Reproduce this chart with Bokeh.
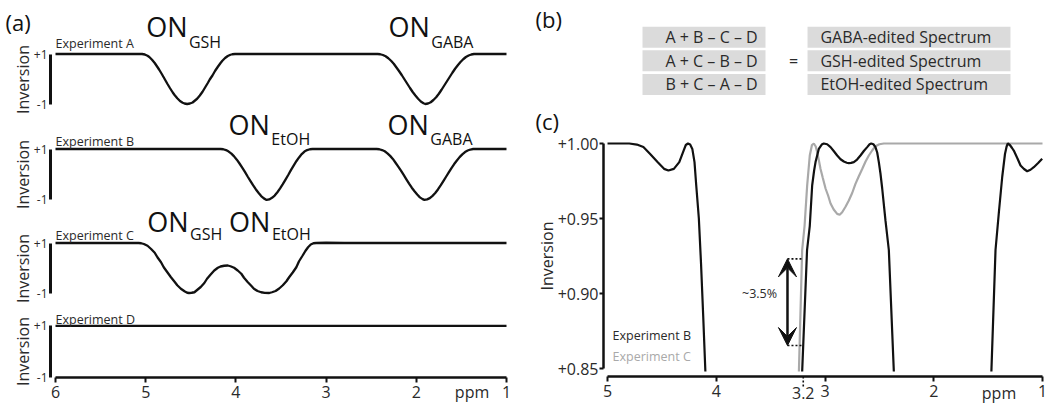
from bokeh.plotting import figure
from bokeh.layouts import row, column
from bokeh.models import (Range1d, FixedTicker, Label, Arrow, VeeHead, ColumnDataSource,
                          LinearAxis)
from bokeh.embed import file_html
from bokeh.resources import INLINE
from bokeh.core.properties import value

NaN = float("nan")

# ------------------------------------------------------------------ data
# panel (a): inversion profiles of the four experiments (ppm, inversion)
a_xticks = [6, 5, 4, 3, 2, 1]
a_yticks = [-1, 1]
a_ytick_labels = ["-1", "+1"]

expA_ppm = [6.00, 5.30, 5.04, 5.01, 4.98, 4.96, 4.93, 4.90, 4.87, 4.85, 4.82, 4.79, 4.76, 4.73,
            4.70, 4.68, 4.65, 4.62, 4.59, 4.57, 4.54, 4.51, 4.48, 4.45, 4.43, 4.40, 4.37, 4.34,
            4.31, 4.29, 4.26, 4.23, 4.20, 4.17, 4.15, 4.12, 4.09, 4.06, 4.04, 4.01, 3.00,
            2.43, 2.40, 2.37, 2.34, 2.31, 2.28, 2.25, 2.22, 2.19, 2.16, 2.13, 2.10, 2.07, 2.04,
            2.01, 1.98, 1.95, 1.92, 1.90, 1.87, 1.84, 1.81, 1.78, 1.75, 1.72, 1.69, 1.66, 1.63,
            1.60, 1.57, 1.54, 1.51, 1.48, 1.45, 1.42, 1.39, 1.36, 1.00]
expA_inv = [1.0, 1.0, 1.0, 0.98, 0.93, 0.88, 0.77, 0.64, 0.48, 0.37, 0.19, 0.0, -0.19, -0.37,
            -0.54, -0.64, -0.77, -0.88, -0.95, -0.98, -1.0, -0.98, -0.94, -0.85, -0.79, -0.66, -0.51, -0.33,
            -0.15, -0.02, 0.14, 0.33, 0.49, 0.64, 0.73, 0.84, 0.92, 0.97, 0.99, 1.0, 1.0,
            1.0, 0.99, 0.96, 0.91, 0.83, 0.73, 0.61, 0.46, 0.31, 0.15, -0.02, -0.19, -0.36, -0.52,
            -0.66, -0.79, -0.90, -0.97, -1.0, -0.98, -0.93, -0.84, -0.73, -0.59, -0.43, -0.26, -0.09, 0.08,
            0.25, 0.41, 0.55, 0.68, 0.79, 0.88, 0.94, 0.98, 1.0, 1.0]

expB_ppm = [6.00, 5.00, 4.17, 4.14, 4.11, 4.08, 4.05, 4.02, 3.99, 3.96, 3.93, 3.90, 3.87, 3.84,
            3.81, 3.78, 3.75, 3.72, 3.69, 3.66, 3.63, 3.60, 3.57, 3.54, 3.51, 3.48, 3.45, 3.42,
            3.39, 3.36, 3.33, 3.30, 3.27, 3.24, 3.21, 3.18, 3.15, 2.80,
            2.44, 2.41, 2.38, 2.35, 2.32, 2.29, 2.26, 2.23, 2.20, 2.17, 2.14, 2.11, 2.08, 2.05,
            2.02, 1.99, 1.96, 1.93, 1.91, 1.88, 1.85, 1.82, 1.79, 1.76, 1.73, 1.70, 1.67, 1.64,
            1.61, 1.58, 1.55, 1.52, 1.49, 1.46, 1.43, 1.40, 1.37, 1.00]
expB_inv = [1.0, 1.0, 1.0, 0.99, 0.96, 0.90, 0.82, 0.71, 0.58, 0.43, 0.27, 0.10, -0.08, -0.25,
            -0.42, -0.58, -0.72, -0.85, -0.94, -1.0, -0.98, -0.92, -0.83, -0.70, -0.55, -0.38, -0.20, -0.02,
            0.17, 0.35, 0.52, 0.67, 0.80, 0.90, 0.96, 0.99, 1.0, 1.0,
            1.0, 0.99, 0.96, 0.91, 0.83, 0.73, 0.61, 0.46, 0.31, 0.15, -0.02, -0.19, -0.36, -0.52,
            -0.66, -0.79, -0.90, -0.97, -1.0, -0.98, -0.93, -0.84, -0.73, -0.59, -0.43, -0.26, -0.09, 0.08,
            0.25, 0.41, 0.55, 0.68, 0.79, 0.88, 0.94, 0.98, 1.0, 1.0]

expC_ppm = [6.00, 5.08, 5.05, 5.02, 4.98, 4.94, 4.90, 4.87, 4.83, 4.80, 4.76, 4.72, 4.68, 4.65,
            4.61, 4.57, 4.54, 4.52, 4.49, 4.46, 4.43, 4.39, 4.35, 4.32, 4.28, 4.24, 4.20, 4.17,
            4.13, 4.09, 4.06, 4.02, 3.98, 3.94, 3.91, 3.87, 3.83, 3.80, 3.76, 3.72, 3.68, 3.63,
            3.60, 3.56, 3.52, 3.48, 3.44, 3.41, 3.37, 3.33, 3.30, 3.26, 3.23, 3.20, 3.17, 3.14,
            3.11, 3.00, 2.80, 1.00]
expC_inv = [1.0, 1.0, 0.99, 0.96, 0.89, 0.76, 0.61, 0.43, 0.23, 0.03, -0.17, -0.37, -0.55, -0.69,
            -0.83, -0.93, -0.99, -1.0, -0.99, -0.97, -0.88, -0.76, -0.60, -0.43, -0.26, -0.10, 0.01, 0.06,
            0.09, 0.10, 0.07, 0.01, -0.10, -0.23, -0.39, -0.56, -0.71, -0.83, -0.92, -0.97, -0.995, -1.0,
            -0.97, -0.92, -0.82, -0.69, -0.53, -0.37, -0.18, 0.03, 0.27, 0.50, 0.68, 0.83, 0.94, 0.99,
            1.0, 1.01, 1.0, 1.0]

expD_ppm = [6.00, 1.00]
expD_inv = [1.0, 1.0]

exp_names = ["Experiment A", "Experiment B", "Experiment C", "Experiment D"]

# "ON" labels of panel (a): experiment, subscript, ppm where ON meets subscript
on_exp = ["A", "A", "B", "B", "C", "C"]
on_sub = ["GSH", "GABA", "EtOH", "GABA", "GSH", "EtOH"]
on_ppm = [4.525, 1.838, 3.611, 1.848, 4.512, 3.605]

# panel (b): editing combinations
b_left = ["A + B \u2013 C \u2013 D", "A + C \u2013 B \u2013 D", "B + C \u2013 A \u2013 D"]
b_right = ["GABA-edited Spectrum", "GSH-edited Spectrum", "EtOH-edited Spectrum"]

# panel (c): zoom on the top of the profiles (NaN = below the window)
c_xticks = [5, 4, 3, 2, 1]
c_xextra_tick = 3.2
c_yticks = [0.85, 0.90, 0.95, 1.00]
c_ytick_labels = ["+0.85", "+0.90", "+0.95", "+1.00"]

zoomB_ppm = [5.00, 4.90, 4.80, 4.73, 4.67, 4.61, 4.54, 4.48, 4.44, 4.39, 4.34, 4.30, 4.28, 4.26,
             4.24, 4.22, 4.20, 4.184, 4.16, 4.14, 4.12, 4.10, NaN,
             3.21, 3.165, 3.14, 3.118, 3.10, 3.087, 3.057, 3.03, 3.011, 2.98, 2.949, 2.92, 2.888,
             2.857, 2.827, 2.80, 2.781, 2.76, 2.735, 2.705, 2.674, 2.643, 2.612, 2.59, 2.575,
             2.555, 2.536, 2.52, 2.505, 2.49, 2.474, 2.444, 2.413, 2.367, NaN,
             1.47, 1.432, 1.40, 1.37, 1.345, 1.33, 1.319, 1.30, 1.28, 1.264, 1.23, 1.202, 1.17,
             1.141, 1.11, 1.08, 1.04, 1.003]
zoomB_inv = [1.0, 1.0, 1.0, 0.9993, 0.9976, 0.9931, 0.9876, 0.9831, 0.982, 0.9831, 0.9876, 0.9953, 0.999, 1.0,
             0.9993, 0.9964, 0.9876, 0.972, 0.95, 0.92, 0.885, 0.848, NaN,
             0.848, 0.929, 0.945, 0.972, 0.982, 0.9876, 0.9964, 0.9993, 1.0, 0.9995, 0.9976, 0.995, 0.992,
             0.9895, 0.988, 0.9872, 0.9869, 0.9871, 0.9876, 0.9893, 0.992, 0.995, 0.9976, 0.9995, 1.0,
             0.9995, 0.9976, 0.994, 0.9876, 0.980, 0.970, 0.9487, 0.929, 0.848, NaN,
             0.848, 0.929, 0.955, 0.978, 0.993, 0.998, 1.0, 0.999, 0.997, 0.9953, 0.99, 0.9853, 0.983,
             0.9815, 0.9825, 0.9842, 0.987, 0.9898]

zoomC_ppm = [3.24, 3.21, 3.188, 3.164, 3.14, 3.12, 3.103, 3.085, 3.072, 3.057, 3.041, 3.02, 2.995,
             2.97, 2.949, 2.92, 2.888, 2.865, 2.842, 2.81, 2.781, 2.75, 2.72, 2.69, 2.658, 2.627,
             2.597, 2.565, 2.536, 2.50, 2.459, 2.30, 2.00, 1.50, 1.00]
zoomC_inv = [0.848, 0.929, 0.945, 0.972, 0.992, 0.999, 1.0, 0.998, 0.9942, 0.989, 0.983, 0.977, 0.970,
             0.965, 0.960, 0.956, 0.9531, 0.9525, 0.9542, 0.958, 0.962, 0.967, 0.9731, 0.978, 0.983, 0.988,
             0.992, 0.9955, 0.9982, 0.9995, 1.0, 1.0, 1.0, 1.0, 1.0]

c_legend = ["Experiment B", "Experiment C"]
gap_ppm = 3.345
gap_top = 0.9231
gap_bottom = 0.8653
gap_text = "~3.5%"

# ------------------------------------------------------------------ style
FONT = "Open Sans"
INK = "#111111"
TXT = "#2a2a2a"
GRAY = "#a9a9a9"
CELL = "#dbdbdb"
NOBORDER = dict(min_border_left=0, min_border_right=0, min_border_top=0, min_border_bottom=0)


def lab(p, x, y, text, size, align="left", color=TXT, yr="default"):
    p.add_layout(Label(x=x, y=y, text=text, text_font=FONT, text_font_size=size,
                       text_align=align, text_baseline="middle", text_color=color,
                       y_range_name=yr))


def style_axis(ax, size):
    ax.axis_line_color = INK
    ax.major_tick_line_color = INK
    ax.major_tick_in = 0
    ax.minor_tick_in = 0
    ax.minor_tick_out = 0
    ax.major_label_text_font = FONT
    ax.major_label_text_font_size = size
    ax.major_label_text_color = TXT
    ax.axis_label_text_font = FONT
    ax.axis_label_text_font_style = "normal"
    ax.axis_label_text_font_size = "16px"
    ax.axis_label_text_color = TXT


# ------------------------------------------------------------------ panel (a)
# one canvas; each experiment has its own vertical scale, axes at fixed data locations
A_W, A_H = 531, 407
A_XR = (6.6098, 0.7228)
A_YAXIS_AT = 6.0554
A_YR = {"A": (-13.14, 3.14), "B": (-9.157, 6.835), "C": (-5.58, 10.70), "D": (-2.1423, 13.5115)}
RN = {"A": "A", "B": "B", "C": "C", "D": "default"}

fa = figure(width=A_W, height=A_H, output_backend="svg", toolbar_location=None,
            x_range=Range1d(*A_XR), y_range=Range1d(*A_YR["D"]),
            y_axis_location=None, **NOBORDER)
fa.extra_y_ranges = {k: Range1d(*A_YR[k]) for k in "ABC"}
fa.outline_line_color = None
fa.grid.visible = False

for k in "ABCD":
    ya = LinearAxis(y_range_name=RN[k])
    style_axis(ya, "12px")
    ya.fixed_location = A_YAXIS_AT
    ya.ticker = FixedTicker(ticks=a_yticks)
    ya.major_label_overrides = dict(zip(a_yticks, a_ytick_labels))
    ya.bounds = (-1, 1)
    ya.axis_line_width = 3
    ya.major_tick_out = 0
    ya.major_label_standoff = 3
    ya.axis_label = "Inversion"
    ya.axis_label_standoff = -3
    fa.add_layout(ya, "left")

xa = fa.xaxis[0]
style_axis(xa, "16px")
xa.fixed_location = -1.0
xa.ticker = FixedTicker(ticks=a_xticks)
xa.bounds = (1, 6)
xa.axis_line_width = 2.5
xa.major_tick_line_width = 2
xa.major_tick_out = 5
xa.major_label_standoff = 3

for k, xs, ys in [("A", expA_ppm, expA_inv), ("B", expB_ppm, expB_inv),
                  ("C", expC_ppm, expC_inv), ("D", expD_ppm, expD_inv)]:
    fa.line(x="x", y="y", source=ColumnDataSource(dict(x=xs, y=ys)),
            line_width=2.3, line_color=INK, y_range_name=RN[k])

# experiment names (just above the +1 line)
name_mid = {"A": 1.42, "B": 1.314, "C": 1.30, "D": 1.26}
for k, name in zip("ABCD", exp_names):
    lab(fa, 6.0, name_mid[k], name, "12.5px", yr=RN[k])

# ON labels (vertical centres of "ON" and of its subscript)
on_mid = {"A": (2.108, 1.472), "B": (1.963, 1.40), "C": (1.868, 1.368)}
for e, sub, x in zip(on_exp, on_sub, on_ppm):
    m_on, m_sub = on_mid[e]
    lab(fa, x + 0.012, m_on, "ON", "27px", align="right", color=INK, yr=RN[e])
    lab(fa, x - 0.004, m_sub, sub, "16px", align="left", color=INK, yr=RN[e])

lab(fa, 6.554, 2.30, "(a)", "22px", color=INK, yr="A")
lab(fa, 1.382, -1.527, "ppm", "16px", align="center")

# ------------------------------------------------------------------ panel (b)
R_W = 517
fT = figure(width=R_W, height=104, output_backend="svg", toolbar_location=None,
            x_range=Range1d(-0.8415, 1.6805), y_range=Range1d(2.852, -1.555),
            x_axis_location=None, y_axis_location=None, **NOBORDER)
fT.outline_line_color = None
fT.grid.visible = False
rows = list(range(len(b_left)))
tsrc = ColumnDataSource(dict(r=rows, left=b_left, right=b_right))
fT.rect(x=0, y="r", width=0.6, height=0.89, source=tsrc, fill_color=CELL, line_color=None)
fT.rect(x=1, y="r", width=0.99, height=0.89, source=tsrc, fill_color=CELL, line_color=None)
fT.text(x=-0.188, y="r", text="left", source=tsrc, text_font=value(FONT), text_font_size="16px",
        text_align="left", text_baseline="middle", text_color=TXT)
fT.text(x=0.568, y="r", text="right", source=tsrc, text_font=value(FONT), text_font_size="16px",
        text_align="left", text_baseline="middle", text_color=TXT)
lab(fT, 0.4366, 1, "=", "16px", align="center")
lab(fT, -0.822, -0.75, "(b)", "22px", color=INK)

# ------------------------------------------------------------------ panel (c)
C_YAXIS_AT = 5.0368
C_XAXIS_AT = 0.8447
fZ = figure(width=R_W, height=303, output_backend="svg", toolbar_location=None,
            x_range=Range1d(5.6989, 0.9448), y_range=Range1d(0.824, 1.026), **NOBORDER)
fZ.outline_line_color = None
fZ.grid.visible = False
ya = fZ.yaxis[0]
style_axis(ya, "16px")
ya.fixed_location = C_YAXIS_AT
ya.ticker = FixedTicker(ticks=c_yticks)
ya.major_label_overrides = dict(zip(c_yticks, c_ytick_labels))
ya.bounds = (0.85, 1.0)
ya.axis_line_width = 2.5
ya.major_tick_line_width = 2
ya.major_tick_out = 4
ya.major_label_standoff = 1
ya.axis_label = "Inversion"
ya.axis_label_standoff = -3
xa = fZ.xaxis[0]
style_axis(xa, "16px")
xa.fixed_location = C_XAXIS_AT
xa.ticker = FixedTicker(ticks=c_xticks)
xa.bounds = (1, 5)
xa.axis_line_width = 2.5
xa.major_tick_line_width = 2
xa.major_tick_out = 5
xa.major_label_standoff = 4

fZ.line(x="x", y="y", source=ColumnDataSource(dict(x=zoomC_ppm, y=zoomC_inv)),
        line_width=2.2, line_color=GRAY)
fZ.line(x="x", y="y", source=ColumnDataSource(dict(x=zoomB_ppm, y=zoomB_inv)),
        line_width=2.2, line_color=INK)

# the ~3.5% gap
fZ.segment(x0=[gap_ppm, gap_ppm], y0=[gap_top, gap_bottom], x1=[c_xextra_tick, c_xextra_tick],
           y1=[gap_top, gap_bottom], line_color=INK, line_width=1.6, line_dash="2 2")
fZ.add_layout(Arrow(x_start=gap_ppm, y_start=gap_bottom, x_end=gap_ppm, y_end=gap_top,
                    line_width=2.5, line_color=INK,
                    start=VeeHead(size=18, fill_color=INK, line_color=INK),
                    end=VeeHead(size=18, fill_color=INK, line_color=INK)))
lab(fZ, 3.602, 0.90, gap_text, "12.5px", align="center")

# dotted 3.2 tick with its label
fZ.segment(x0=[c_xextra_tick], y0=[C_XAXIS_AT], x1=[c_xextra_tick], y1=[C_XAXIS_AT - 0.0075],
           line_color=INK, line_width=1.6, line_dash="2 2")
lab(fZ, c_xextra_tick, 0.834, "3.2", "16px", align="center")
lab(fZ, 1.40, 0.834, "ppm", "16px", align="center")

lab(fZ, 4.954, 0.872, c_legend[0], "12.5px", color="#2a2a2a")
lab(fZ, 4.954, 0.858, c_legend[1], "12.5px", color=GRAY)
lab(fZ, 5.662, 1.0147, "(c)", "22px", color=INK)

layout = row(fa, column(fT, fZ))
open("out.html", "w").write(file_html(layout, INLINE))
